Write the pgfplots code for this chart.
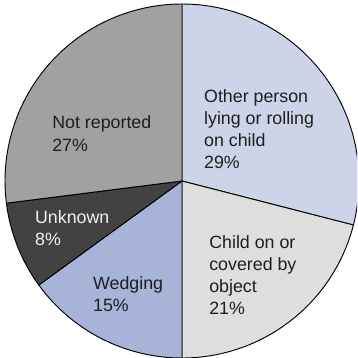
\documentclass[border=0pt]{standalone}
\usepackage{pgfplots}
\usepackage{pgfplotstable}
\pgfplotsset{compat=1.18}
\usepackage{fontspec}
\setmainfont{Liberation Sans}
\definecolor{pie0}{HTML}{CDD4E8}
\definecolor{pie1}{HTML}{DEDEDE}
\definecolor{pie2}{HTML}{A8B4D7}
\definecolor{pie3}{HTML}{424242}
\definecolor{pie4}{HTML}{A1A1A1}
\definecolor{txt}{HTML}{1E1E1E}
\definecolor{txtw}{HTML}{F0F0F0}
\pgfplotstableread{
pct
29
21
15
8
27
}\piedata
\begin{document}
\begin{tikzpicture}
\begin{axis}[hide axis, scale only axis, width=10.71cm, height=10.74cm,
  xmin=-1.0282, xmax=0.9887, ymin=-1.0, ymax=1.0226, clip=true]
\gdef\startangle{90}
\pgfplotsinvokeforeach{0,1,2,3,4}{%
  \pgfplotstablegetelem{#1}{pct}\of\piedata
  \pgfmathsetmacro\sa{\startangle}%
  \pgfmathsetmacro\ea{\startangle-3.6*\pgfplotsretval}%
  \xdef\startangle{\ea}%
  \edef\piecmd{\noexpand\fill[pie#1, draw=black, line width=0.8pt, line join=round] (axis cs:0,0) -- (axis cs:{cos(\sa)},{sin(\sa)}) arc[start angle=\sa, end angle=\ea, radius=1] -- cycle;}%
  \piecmd
}
\tikzset{lab/.style={anchor=north west, inner sep=0pt, align=left, text=txt, font=\fontsize{15.2pt}{18.9pt}\selectfont}}
\node[lab] at (axis cs:0.124,0.520) {Other person\\lying or rolling\\on child\\29\%};
\node[lab] at (axis cs:0.153,-0.306) {Child on or\\covered by\\object\\21\%};
\node[lab] at (axis cs:-0.503,-0.537) {Wedging\\15\%};
\node[lab, text=txtw] at (axis cs:-0.831,-0.165) {Unknown\\8\%};
\node[lab] at (axis cs:-0.734,0.368) {Not reported\\27\%};
\end{axis}
\pgfresetboundingbox
\path (current axis.south west) rectangle (current axis.north east);
\end{tikzpicture}
\end{document}
